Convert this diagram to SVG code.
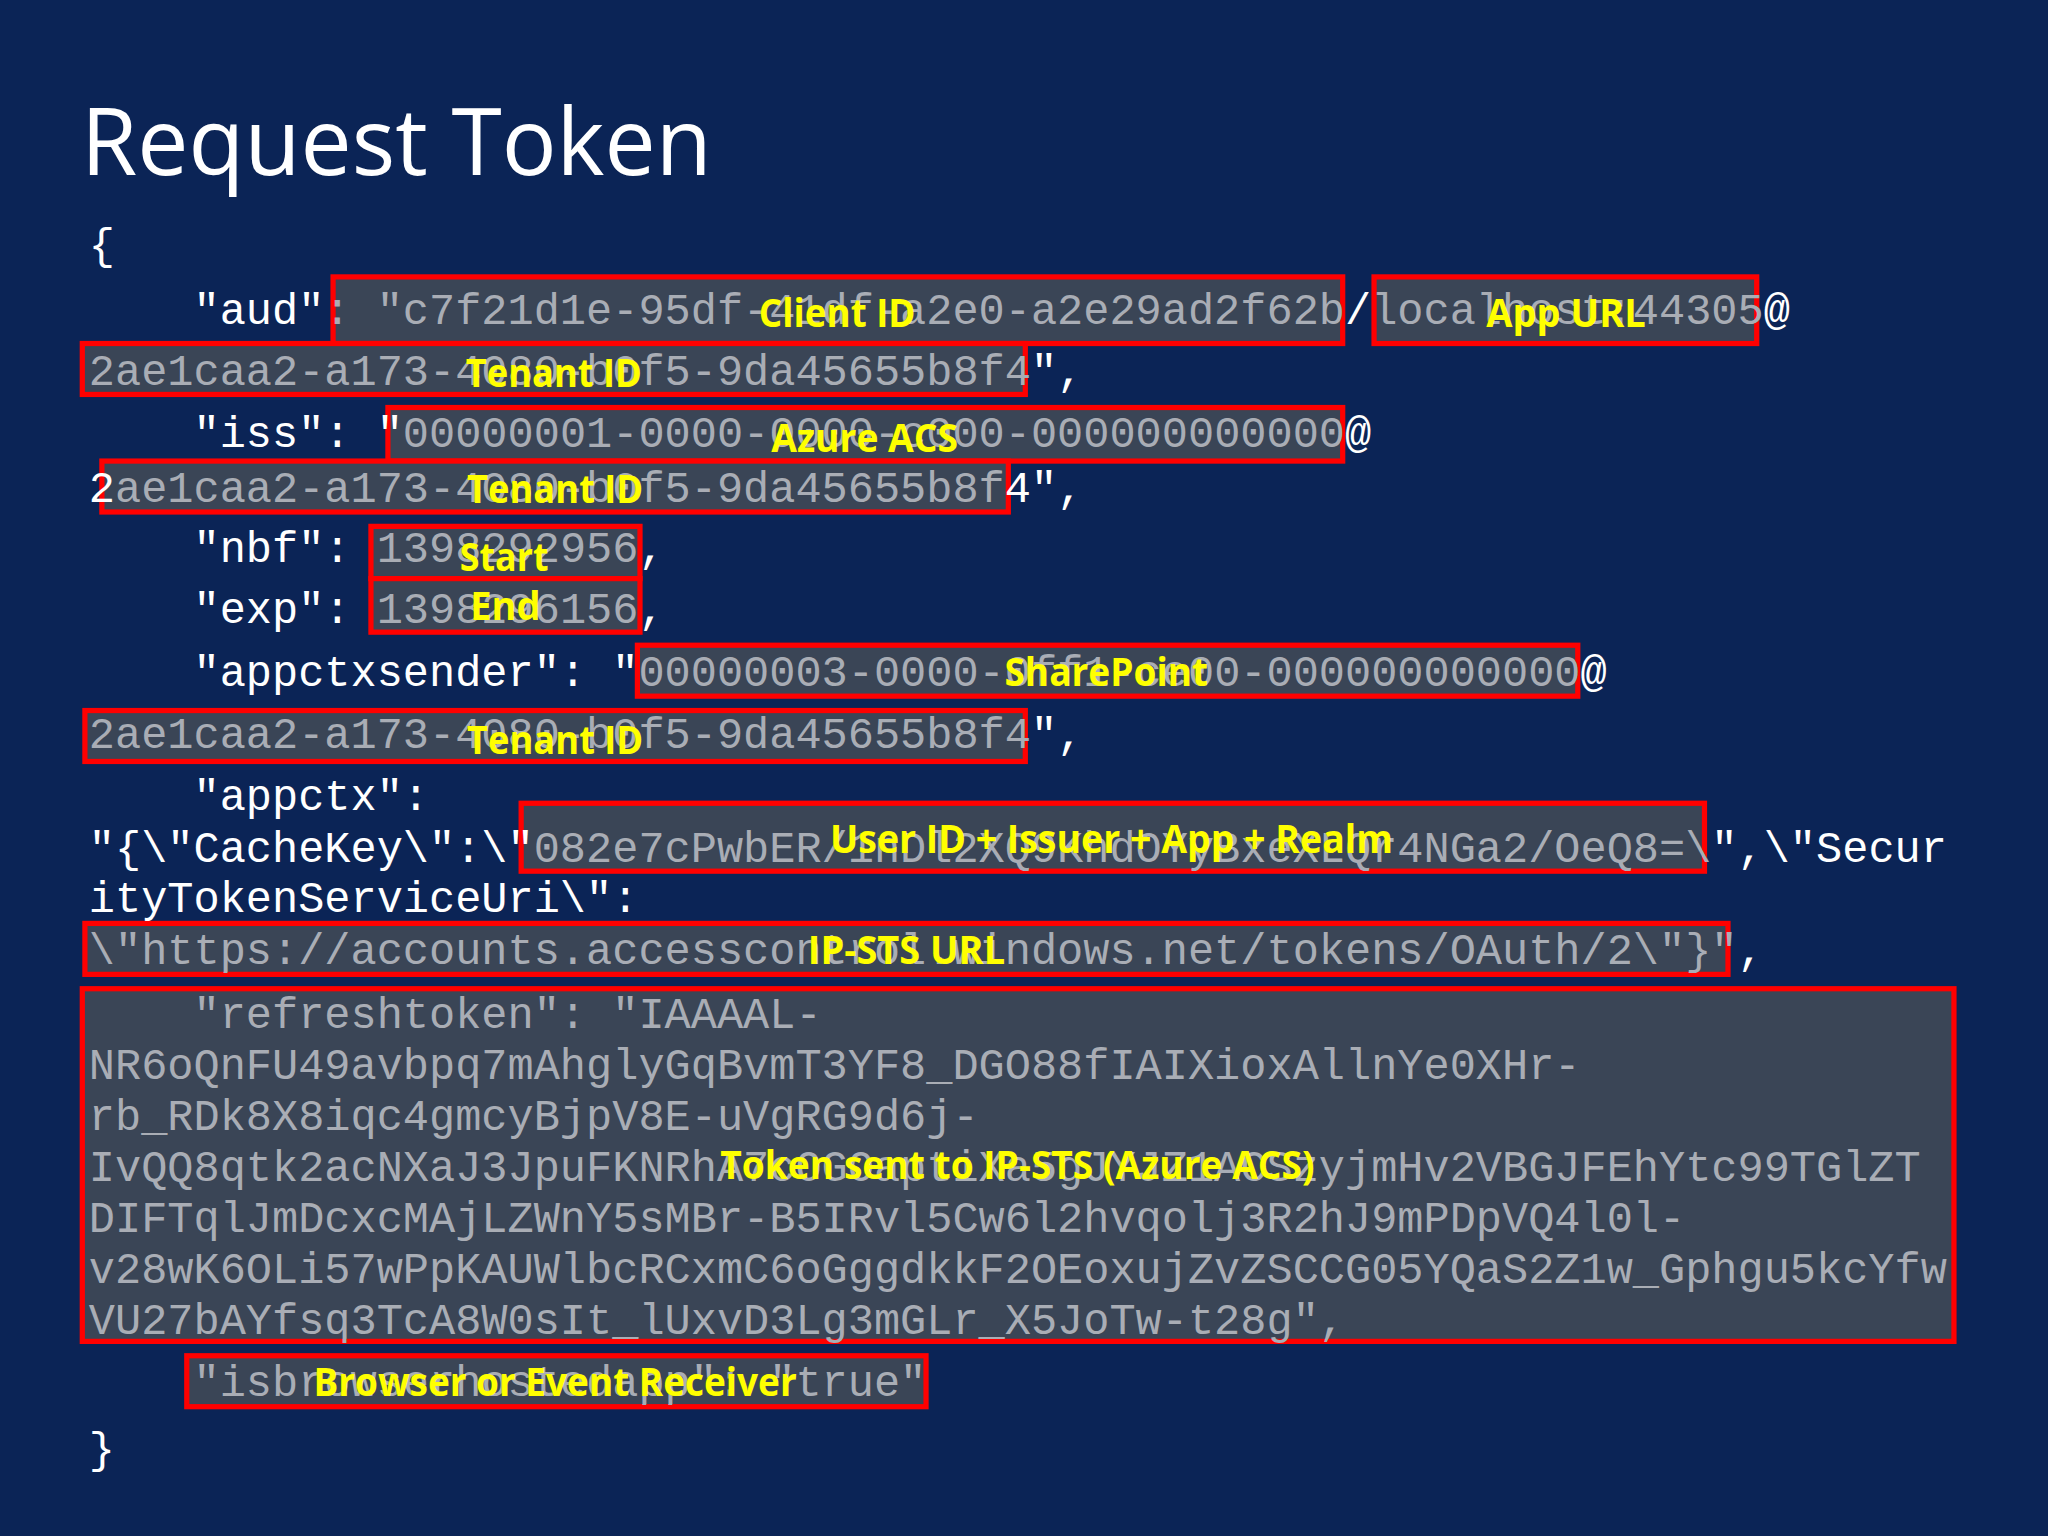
<svg xmlns="http://www.w3.org/2000/svg" width="2048" height="1536" viewBox="0 0 2048 1536">
<style>
.c{font-family:"Liberation Mono","DejaVu Sans Mono",monospace;font-size:33.4px;fill:#ffffff;white-space:pre}
.g{fill:#a9adb5}
.b{fill:#3a4556;stroke:#ff0000;stroke-width:4}
.l{font-family:"Open Sans","Noto Sans",sans-serif;font-weight:bold;font-size:30px;fill:#ffff00;text-anchor:middle}
.t{font-family:"Open Sans","Noto Sans",sans-serif;font-size:72px;fill:#ffffff}
</style>
<rect width="2048" height="1536" fill="#0b2456"/>
<g transform="scale(1.30612)">
<text class="t" x="62" y="134" textLength="483" lengthAdjust="spacingAndGlyphs">Request Token</text>
<g id="boxes">
<rect class="b" x="255" y="212" width="773" height="51"/>
<rect class="b" x="1052" y="212" width="293" height="51"/>
<rect class="b" x="63" y="263" width="722" height="39"/>
<rect class="b" x="297" y="312" width="731" height="41"/>
<rect class="b" x="78" y="353" width="694" height="39"/>
<rect class="b" x="284" y="403" width="206" height="40"/>
<rect class="b" x="284" y="443" width="206" height="41"/>
<rect class="b" x="488" y="494" width="720" height="39"/>
<rect class="b" x="65" y="544" width="720" height="39"/>
<rect class="b" x="399" y="615" width="906" height="52"/>
<rect class="b" x="65" y="707" width="1258" height="39"/>
<rect class="b" x="63" y="757" width="1433" height="270"/>
<rect class="b" x="143" y="1038" width="566" height="39"/>
</g>
<g id="code">
<text class="c" x="68" y="198">{</text>
<text class="c" x="68" y="248">    "aud"<tspan class="g">: "c7f21d1e-95df-41df-a2e0-a2e29ad2f62b</tspan>/<tspan class="g">localhost:44305</tspan>@</text>
<text class="c" x="68" y="295"><tspan class="g">2ae1caa2-a173-4080-b0f5-9da45655b8f4</tspan>",</text>
<text class="c" x="68" y="342">    "iss": "<tspan class="g">00000001-0000-0000-c000-000000000000</tspan>@</text>
<text class="c" x="68" y="384">2<tspan class="g">ae1caa2-a173-4080-b0f5-9da45655b8f</tspan>4",</text>
<text class="c" x="68" y="430">    "nbf": <tspan class="g">1398292956</tspan>,</text>
<text class="c" x="68" y="477">    "exp": <tspan class="g">1398296156</tspan>,</text>
<text class="c" x="68" y="525">    "appctxsender": "<tspan class="g">00000003-0000-0ff1-ce00-000000000000</tspan>@</text>
<text class="c" x="68" y="573"><tspan class="g">2ae1caa2-a173-4080-b0f5-9da45655b8f4</tspan>",</text>
<text class="c" x="68" y="620">    "appctx":</text>
<text class="c" x="68" y="660">"{\"CacheKey\":\"<tspan class="g">082e7cPwbER/1nDl2XQ9KhdOYyBxeXLQr4NGa2/OeQ8=\</tspan>",\"Secur</text>
<text class="c" x="68" y="698">ityTokenServiceUri\":</text>
<text class="c" x="68" y="738"><tspan class="g">\"https://accounts.accesscontrol.windows.net/tokens/OAuth/2\"}"</tspan>,</text>
<text class="c g" x="68" y="787">    "refreshtoken": "IAAAAL-</text>
<text class="c g" x="68" y="826">NR6oQnFU49avbpq7mAhglyGqBvmT3YF8_DGO88fIAIXioxAllnYe0XHr-</text>
<text class="c g" x="68" y="865">rb_RDk8X8iqc4gmcyBjpV8E-uVgRG9d6j-</text>
<text class="c g" x="68" y="904">IvQQ8qtk2acNXaJ3JpuFKNRhA7cOGOaptiXa5gJYJZ1ACSzyjmHv2VBGJFEhYtc99TGlZT</text>
<text class="c g" x="68" y="943">DIFTqlJmDcxcMAjLZWnY5sMBr-B5IRvl5Cw6l2hvqolj3R2hJ9mPDpVQ4l0l-</text>
<text class="c g" x="68" y="982">v28wK6OLi57wPpKAUWlbcRCxmC6oGggdkkF2OEoxujZvZSCCG05YQaS2Z1w_Gphgu5kcYfw</text>
<text class="c g" x="68" y="1021">VU27bAYfsq3TcA8W0sIt_lUxvD3Lg3mGLr_X5JoTw-t28g",</text>
<text class="c g" x="68" y="1069">    "isbrowserhostedapp": "true"</text>
<text class="c" x="68" y="1120">}</text>
</g>
<g id="labels">
<text class="l" x="641" y="250" textLength="120" lengthAdjust="spacingAndGlyphs">Client ID</text>
<text class="l" x="1199" y="250" textLength="122" lengthAdjust="spacingAndGlyphs">App URL</text>
<text class="l" x="424" y="296" textLength="135" lengthAdjust="spacingAndGlyphs">Tenant ID</text>
<text class="l" x="662" y="346" textLength="143" lengthAdjust="spacingAndGlyphs">Azure ACS</text>
<text class="l" x="425" y="385" textLength="135" lengthAdjust="spacingAndGlyphs">Tenant ID</text>
<text class="l" x="386" y="437" textLength="68" lengthAdjust="spacingAndGlyphs">Start</text>
<text class="l" x="387" y="475" textLength="54" lengthAdjust="spacingAndGlyphs">End</text>
<text class="l" x="847" y="525" textLength="156" lengthAdjust="spacingAndGlyphs">SharePoint</text>
<text class="l" x="425" y="577" textLength="135" lengthAdjust="spacingAndGlyphs">Tenant ID</text>
<text class="l" x="851" y="653" textLength="431" lengthAdjust="spacingAndGlyphs">User ID + Issuer + App + Realm</text>
<text class="l" x="694" y="738" textLength="151" lengthAdjust="spacingAndGlyphs">IP-STS URL</text>
<text class="l" x="779" y="903" textLength="455" lengthAdjust="spacingAndGlyphs">Token sent to IP-STS (Azure ACS)</text>
<text class="l" x="425" y="1069" textLength="370" lengthAdjust="spacingAndGlyphs">Browser or Event Receiver</text>
</g>
</g>
</svg>
